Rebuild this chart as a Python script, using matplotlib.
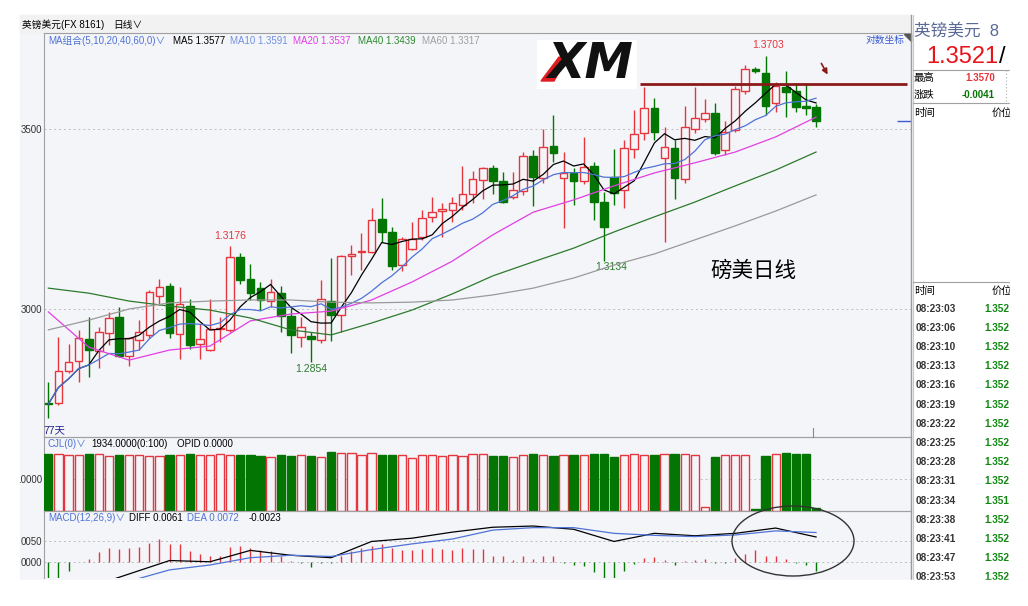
import numpy as np
import pandas as pd
import matplotlib
matplotlib.use("Agg")
import matplotlib.pyplot as plt
from matplotlib.patches import Rectangle, Ellipse, Polygon

plt.rcParams["font.family"] = ["Liberation Sans", "Noto Sans CJK SC", "DejaVu Sans"]

# ── 1. DAILY GBP/USD CANDLES ────────────────────────────────────────────────

opens = [1.2739, 1.2739, 1.2829, 1.2856, 1.2917, 1.2883, 1.2933, 1.2978, 1.2870, 1.2914,
         1.2928, 1.3037, 1.3064, 1.2931, 1.3008, 1.2902, 1.2886, 1.2944, 1.2942, 1.3144,
         1.3083, 1.3058, 1.3022, 1.3044, 1.2981, 1.2923, 1.2926, 1.2914, 1.3023, 1.2983,
         1.3147, 1.3158, 1.3159, 1.3249, 1.3215, 1.3122, 1.3167, 1.3199, 1.3255, 1.3273,
         1.3275, 1.3289, 1.3319, 1.3358, 1.3391, 1.3356, 1.3310, 1.3329, 1.3425, 1.3363,
         1.3454, 1.3363, 1.3377, 1.3356, 1.3397, 1.3298, 1.3366, 1.3331, 1.3444, 1.3488,
         1.3558, 1.3419, 1.3446, 1.3360, 1.3499, 1.3527, 1.3545, 1.3442, 1.3497, 1.3606,
         1.3666, 1.3656, 1.3573, 1.3618, 1.3606, 1.3564, 1.3562]
highs = [1.2798, 1.2923, 1.2903, 1.2942, 1.2979, 1.2951, 1.2993, 1.3006, 1.2923, 1.2969,
         1.3053, 1.3083, 1.3071, 1.3062, 1.3027, 1.2958, 1.3027, 1.2979, 1.3176, 1.3156,
         1.3124, 1.3076, 1.3082, 1.3064, 1.3002, 1.2979, 1.2937, 1.3081, 1.3143, 1.3150,
         1.3178, 1.3210, 1.3280, 1.3308, 1.3229, 1.3201, 1.3243, 1.3275, 1.3312, 1.3294,
         1.3312, 1.3398, 1.3383, 1.3395, 1.3400, 1.3381, 1.3381, 1.3437, 1.3442, 1.3499,
         1.3539, 1.3437, 1.3391, 1.3477, 1.3409, 1.3326, 1.3444, 1.3469, 1.3553, 1.3618,
         1.3585, 1.3505, 1.3469, 1.3564, 1.3618, 1.3583, 1.3573, 1.3522, 1.3619, 1.3678,
         1.3672, 1.3703, 1.3631, 1.3662, 1.3627, 1.3629, 1.3570]
lows = [1.2697, 1.2733, 1.2822, 1.2798, 1.2812, 1.2836, 1.2900, 1.2867, 1.2843, 1.2886,
        1.2919, 1.3011, 1.2919, 1.2860, 1.2888, 1.2860, 1.2884, 1.2909, 1.2937, 1.3069,
        1.3025, 1.2997, 1.3005, 1.2937, 1.2879, 1.2895, 1.2854, 1.2905, 1.2912, 1.2937,
        1.3094, 1.3108, 1.3156, 1.3187, 1.3108, 1.3106, 1.3164, 1.3192, 1.3243, 1.3201,
        1.3243, 1.3275, 1.3294, 1.3305, 1.3319, 1.3294, 1.3305, 1.3317, 1.3286, 1.3351,
        1.3409, 1.3224, 1.3289, 1.3347, 1.3247, 1.3134, 1.3289, 1.3280, 1.3419, 1.3469,
        1.3469, 1.3187, 1.3305, 1.3349, 1.3488, 1.3520, 1.3428, 1.3428, 1.3493, 1.3597,
        1.3656, 1.3539, 1.3548, 1.3534, 1.3548, 1.3539, 1.3505]
closes = [1.2736, 1.2828, 1.2854, 1.2919, 1.2886, 1.2936, 1.2976, 1.2870, 1.2919, 1.2936,
          1.3047, 1.3062, 1.2934, 1.3014, 1.2900, 1.2916, 1.2944, 1.2946, 1.3144, 1.3081,
          1.3044, 1.3025, 1.3047, 1.2981, 1.2928, 1.2951, 1.2917, 1.3027, 1.2983, 1.3147,
          1.3153, 1.3161, 1.3247, 1.3215, 1.3120, 1.3194, 1.3194, 1.3252, 1.3270, 1.3277,
          1.3294, 1.3319, 1.3360, 1.3391, 1.3356, 1.3298, 1.3331, 1.3425, 1.3366, 1.3451,
          1.3434, 1.3379, 1.3356, 1.3395, 1.3298, 1.3227, 1.3323, 1.3448, 1.3485, 1.3558,
          1.3493, 1.3451, 1.3363, 1.3505, 1.3531, 1.3545, 1.3434, 1.3493, 1.3610, 1.3666,
          1.3662, 1.3564, 1.3619, 1.3602, 1.3562, 1.3558, 1.3521]

volumes = [35400, 35400, 34800, 35200, 35400, 35400, 34400, 34800, 35200, 34800,
           34400, 34400, 34800, 34800, 35400, 35200, 34800, 35400, 34800, 34800,
           34800, 34400, 33500, 34800, 34400, 34800, 34400, 33500, 36900, 36300,
           36300, 34800, 36300, 34800, 34800, 34800, 33100, 34800, 34800, 34400,
           34800, 34400, 35400, 35600, 34400, 34400, 34000, 34800, 35400, 34800,
           34400, 35000, 35000, 34800, 35600, 35600, 33500, 35000, 35600, 35000,
           34800, 35400, 35400, 35400, 35000, 2700, 33500, 35000, 35000, 35000,
           1300, 34400, 35600, 36000, 35600, 35600, 1934]

macd_hist = [-0.0045, -0.0045, -0.0023, 0.0, 0.0008, 0.0023, 0.0034, 0.0032, 0.0034, 0.0036,
             0.0046, 0.0057, 0.0044, 0.0043, 0.0026, 0.0018, 0.0015, 0.0015, 0.0036, 0.0038,
             0.0034, 0.0028, 0.0026, 0.0013, 0.0001, -0.0003, -0.0013, -0.0004, -0.0004, 0.0013,
             0.0026, 0.0034, 0.0040, 0.0044, 0.0034, 0.0029, 0.0028, 0.0031, 0.0033, 0.0032,
             0.0030, 0.0033, 0.0032, 0.0031, 0.0015, 0.0013, 0.0004, 0.0013, 0.0007, 0.0015,
             0.0013, -0.0002, -0.0008, -0.0010, -0.0024, -0.0039, -0.0039, -0.0023, -0.0006, 0.0009,
             0.0011, 0.0004, -0.0008, 0.0003, 0.0004, 0.0007, -0.0004, -0.0004, 0.0009, 0.0019,
             0.0028, 0.0015, 0.0013, 0.0007, -0.0003, -0.0008, -0.0023]

# longer averages and MACD lines, read every 4th day
ma_idx = list(range(0, 77, 4))
ma20 = [1.2992, 1.2894, 1.2858, 1.2886, 1.2897, 1.2967, 1.2986, 1.2994, 1.3025, 1.3075,
        1.3133, 1.3206, 1.3269, 1.3303, 1.3342, 1.3378, 1.3406, 1.3436, 1.3478, 1.3533]
ma40 = [1.3058, 1.3044, 1.3022, 1.3008, 1.2997, 1.2975, 1.2942, 1.2928, 1.2961, 1.2997,
        1.3042, 1.3092, 1.3131, 1.3169, 1.3214, 1.3256, 1.3297, 1.3342, 1.3386, 1.3436]
ma60 = [1.2942, 1.2969, 1.3000, 1.3017, 1.3022, 1.3025, 1.3025, 1.3019, 1.3017, 1.3019,
        1.3025, 1.3039, 1.3058, 1.3086, 1.3122, 1.3153, 1.3192, 1.3231, 1.3272, 1.3317]
diff_line = [-0.0098, -0.0063, -0.0030, 0.0003, 0.0, 0.0028, 0.0016, 0.0010, 0.0050, 0.0058,
             0.0073, 0.0085, 0.0088, 0.0080, 0.0050, 0.0070, 0.0064, 0.0070, 0.0083, 0.0061]
dea_line = [-0.0075, -0.0068, -0.0048, -0.0020, -0.0008, 0.0010, 0.0016, 0.0013, 0.0030, 0.0044,
            0.0056, 0.0078, 0.0084, 0.0084, 0.0070, 0.0065, 0.0062, 0.0066, 0.0076, 0.0072]

price_ticks = [1.30, 1.35]
price_tick_labels = ["3000", "3500"]
vol_ticks = [20000]
vol_tick_labels = [".0000"]
macd_ticks = [0.0, 0.005]
macd_tick_labels = ["0000", "0050"]

tick_times = ["08:23:03", "08:23:06", "08:23:10", "08:23:13", "08:23:16", "08:23:19",
              "08:23:22", "08:23:25", "08:23:28", "08:23:31", "08:23:34", "08:23:38",
              "08:23:41", "08:23:47", "08:23:53"]
tick_prices = ["1.352", "1.352", "1.352", "1.352", "1.352", "1.352", "1.352", "1.352",
               "1.352", "1.352", "1.351", "1.352", "1.352", "1.352", "1.352"]

# ── 2. LAYOUT HELPERS ───────────────────────────────────────────────────────

W, H = 1028, 606
RED = "#e6363d"
GREEN = "#037503"
BLUE = "#4f73d6"
BG = "#f4f5f9"
XLIM = (-0.43, 85.4)


def box(x0, y0, x1, y1):
    return [x0 / W, 1 - y1 / H, (x1 - x0) / W, (y1 - y0) / H]


def style_panel(a):
    a.set_facecolor("none")
    a.set_xlim(XLIM)
    a.set_xticks([])
    a.tick_params(axis="y", length=0, pad=1, labelsize=7, labelcolor="#333333")
    a.grid(axis="y", color="#bdbdbd", ls=(0, (2, 3)), lw=0.7)
    for sp in a.spines.values():
        sp.set_color("#a0a0a0")
        sp.set_linewidth(0.8)


fig = plt.figure(figsize=(W / 100, H / 100), dpi=100)
fig.patch.set_facecolor("white")

bg = fig.add_axes([0, 0, 1, 1], zorder=-5)
bg.set_xlim(0, W)
bg.set_ylim(H, 0)
bg.axis("off")
bg.add_patch(Rectangle((20, 15), 891, 565, color=BG))
bg.add_patch(Rectangle((20, 15), 891, 18, color="#f2f2f2"))
bg.add_patch(Rectangle((911, 15), 100, 565, color="white"))

x = np.arange(len(closes))
o = np.array(opens)
c = np.array(closes)
up = c >= o
edge = np.where(up, RED, GREEN)
face = np.where(up, BG, GREEN)

# ── 3. PRICE PANEL ──────────────────────────────────────────────────────────

ax = fig.add_axes(box(44, 33, 911, 437))
style_panel(ax)
ax.set_ylim(1.26444, 1.37667)
ax.set_yticks(price_ticks, price_tick_labels)

ax.vlines(x, lows, highs, colors=edge, lw=1, zorder=2)
ax.bar(x, np.maximum(np.abs(c - o), 0.00012), bottom=np.minimum(o, c), width=0.76,
       color=face, edgecolor=edge, lw=1, zorder=3)

s = pd.Series(closes)
ax.plot(x, s.rolling(5, min_periods=1).mean(), color="black", lw=0.9, zorder=4)
ax.plot(x, s.rolling(10, min_periods=1).mean(), color=BLUE, lw=0.9, zorder=4)
ax.plot(ma_idx, ma20, color="#e23fe2", lw=0.9, zorder=4)
ax.plot(ma_idx, ma40, color="#2c7a2c", lw=0.9, zorder=4)
ax.plot(ma_idx, ma60, color="#9a9a9a", lw=0.9, zorder=4)

ax.hlines(1.3625, 58.6, 85.0, color="#8b1a1a", lw=2, zorder=5)
ax.hlines(closes[-1], 84.0, 85.4, color="#3a5bd0", lw=1, zorder=5)

ax.annotate("1.3703", (71, highs[71]), xytext=(2, 4), textcoords="offset points",
            ha="center", va="bottom", color=RED, fontsize=7.5)
ax.annotate("1.3176", (18, highs[18]), xytext=(0, 3), textcoords="offset points",
            ha="center", va="bottom", color=RED, fontsize=7.5)
ax.annotate("1.2854", (26, lows[26]), xytext=(0, -2), textcoords="offset points",
            ha="center", va="top", color="#2c7a2c", fontsize=7.5)
ax.annotate("1.3134", (55, lows[55]), xytext=(5, -1), textcoords="offset points",
            ha="center", va="top", color="#2c7a2c", fontsize=7.5)

# ── 4. VOLUME PANEL ─────────────────────────────────────────────────────────

axv = fig.add_axes(box(44, 437, 911, 511))
style_panel(axv)
axv.set_ylim(0, 46250)
axv.set_yticks(vol_ticks, vol_tick_labels)
axv.bar(x, volumes, width=0.82, color=face, edgecolor=edge, lw=1, zorder=3)

# ── 5. MACD PANEL ───────────────────────────────────────────────────────────

axm = fig.add_axes(box(44, 511, 911, 578))
style_panel(axm)
axm.spines["bottom"].set_visible(False)
axm.set_ylim(-0.004, 0.0125)
axm.set_yticks(macd_ticks, macd_tick_labels)
hist = np.array(macd_hist)
axm.vlines(x, 0, hist, colors=np.where(hist >= 0, RED, GREEN), lw=1, zorder=3)
axm.plot(ma_idx, diff_line, color="black", lw=0.9, zorder=4)
axm.plot(ma_idx, dea_line, color=BLUE, lw=0.9, zorder=4)

# ── 6. OVERLAY: LABELS, LOGO, SIDE PANEL ────────────────────────────────────

ov = fig.add_axes([0, 0, 1, 1], zorder=10)
ov.set_facecolor("none")
ov.set_xlim(0, W)
ov.set_ylim(H, 0)
ov.axis("off")


def put(xp, yp, txt, color="black", size=7, **kw):
    ov.text(xp, yp, txt, color=color, fontsize=size, va="center", **kw)


put(22, 25, "英镑美元(FX 8161)", size=7)
put(113, 25, "日线∨", size=7)

put(48, 41, "MA组合(5,10,20,40,60,0)∨", BLUE)
put(173, 41, "MA5 1.3577")
put(230, 41, "MA10 1.3591", "#7090e0")
put(293, 41, "MA20 1.3537", "#e23fe2")
put(358, 41, "MA40 1.3439", "#2c8a2c")
put(422, 41, "MA60 1.3317", "#a0a0a0")
put(905, 40, "对数坐标", "#3a5bd0", ha="right")
ov.add_patch(Polygon([(904, 34), (911, 34), (911, 41)], color="#555555"))

put(43, 430, "77天", "#22228a", size=7.5)
ov.plot([813, 813], [428, 437], color="#888888", lw=0.8)

put(48, 444, "CJL(0)∨", BLUE)
put(91, 444, "1934.0000(0:100)")
put(177, 444, "OPID 0.0000")

put(48, 518, "MACD(12,26,9)∨", BLUE)
put(129, 518, "DIFF 0.0061")
put(187, 518, "DEA 0.0072", BLUE)
put(249, 518, "-0.0023")

put(710, 271, "磅美日线", size=15.5)

# XM logo
ov.add_patch(Rectangle((537, 40), 99, 48, color="white"))
ov.text(590, 64, "XM", fontsize=35, fontweight="bold", fontstyle="italic",
        family="DejaVu Sans", ha="center", va="center", color="#111111")
ov.add_patch(Polygon([(541, 81), (554, 81), (566, 60), (559, 57)], color="#e01b22"))

ov.annotate("", xy=(829, 77), xytext=(820, 61),
            arrowprops=dict(arrowstyle="-|>", color="#8b1a1a", lw=1.2, mutation_scale=8))

ov.add_patch(Ellipse((793, 541), 122, 70, fill=False, edgecolor="#333333", lw=1))

# right quote panel
ov.plot([911, 911], [15, 580], color="#9a9a9a", lw=1)
ov.plot([913, 913], [15, 580], color="#c8c8c8", lw=0.8)
put(914, 31, "英镑美元  8", "#5a6a96", size=12)
ov.text(926, 57, "1.3521", color="#e8141c", fontsize=17, va="center")
ov.text(999, 57, "/", color="black", fontsize=17, va="center")
ov.plot([913, 1010], [70, 70], color="#a0a0a0", lw=0.8)
put(914, 78, "最高", size=7.5)
put(965, 78, "1.3570", RED, fontweight="bold")
put(914, 95, "涨跌", size=7.5)
put(962, 95, "-0.0041", GREEN, fontweight="bold")
ov.plot([1006, 1006], [70, 103], color="#b0b0b0", lw=0.8, ls=(0, (1, 2)))
ov.plot([913, 1010], [103, 103], color="#a0a0a0", lw=0.8)
put(914, 113, "时间", size=7.5)
put(992, 113, "价位", size=7.5)
ov.plot([913, 1010], [282, 282], color="#a0a0a0", lw=0.8)
put(914, 291, "时间", size=7.5)
put(992, 291, "价位", size=7.5)
for k, (t, p) in enumerate(zip(tick_times, tick_prices)):
    yy = 308.5 + 19.2 * k
    put(916, yy, t, "#333333", size=7.2, fontweight="bold")
    put(984, yy, p, "#118811", size=7.2, fontweight="bold")

# crop edges like the screenshot
ov.add_patch(Rectangle((1010, 0), 18, H, color="white", zorder=20))
ov.add_patch(Rectangle((0, 580), W, 26, color="white", zorder=20))

plt.savefig("out.png", dpi=100)
